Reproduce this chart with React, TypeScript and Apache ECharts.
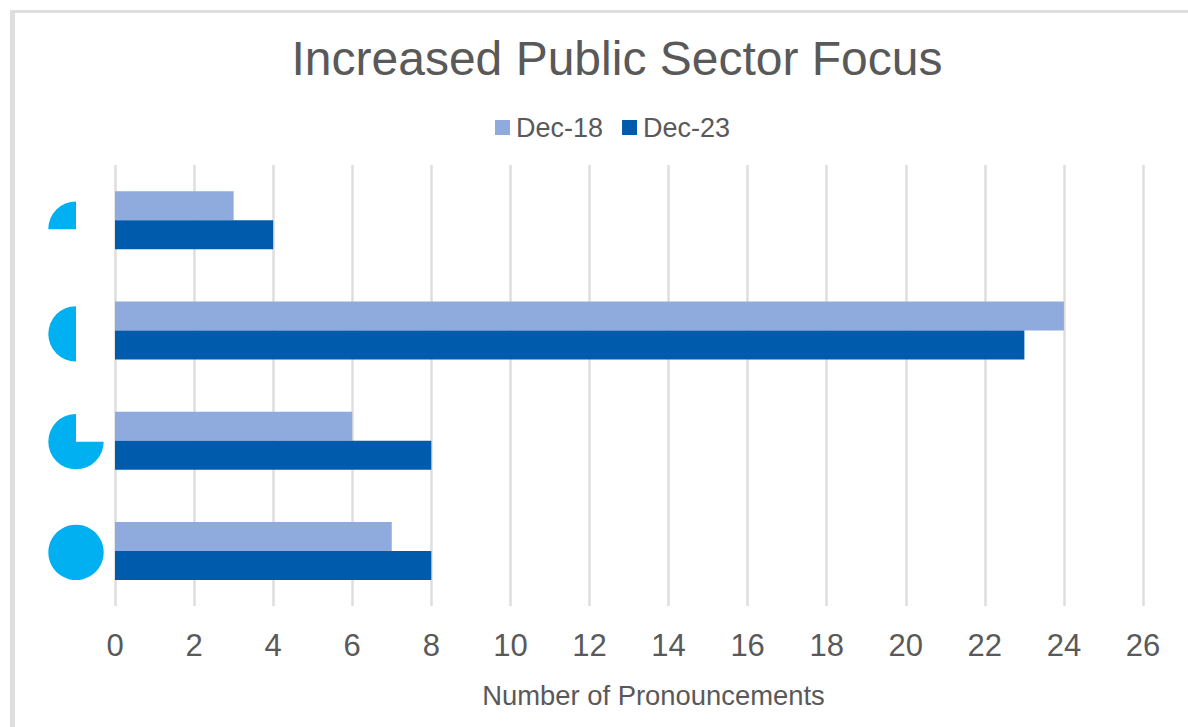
import React, { useEffect, useRef } from "react";
import * as echarts from "echarts";

const categories = ["Full", "Three quarters", "Half", "Quarter"];
const dec18 = [7, 6, 24, 3];
const dec23 = [8, 8, 23, 4];
const iconFill = [1, 0.75, 0.5, 0.25];
const iconShiftY = [1.5, 1, 3.5, 9];
const font = "'Liberation Sans', Arial, sans-serif";
const grey = "#595959";

export default function App() {
  const ref = useRef<HTMLDivElement>(null);
  useEffect(() => {
    const chart = echarts.init(ref.current!, undefined, { renderer: "svg" });
    chart.setOption({
      animation: false,
      backgroundColor: "#ffffff",
      title: {
        text: "Increased Public Sector Focus",
        left: 612, top: 29, textAlign: "center",
        textStyle: { fontFamily: font, fontSize: 48, fontWeight: "normal", color: grey },
      },
      legend: {
        data: ["Dec-18", "Dec-23"],
        left: 490, top: 109, itemWidth: 15, itemHeight: 15, itemGap: 19,
        icon: "rect",
        textStyle: { fontFamily: font, fontSize: 27, color: grey, padding: [0, 0, 0, 1] },
      },
      grid: { left: 115, right: 45, top: 165, bottom: 121 },
      xAxis: {
        type: "value", min: 0, max: 26, interval: 2,
        name: "Number of Pronouncements",
        nameLocation: "middle", nameGap: 76,
        nameTextStyle: { fontFamily: font, fontSize: 27.4, color: grey, padding: [0, 0, 0, 49] },
        axisLine: { show: false }, axisTick: { show: false },
        axisLabel: { fontFamily: font, fontSize: 31, color: grey, margin: 24 },
        splitLine: { show: true, lineStyle: { color: "#dedede", width: 2.5 } },
      },
      yAxis: {
        type: "category", data: categories,
        axisLine: { show: false }, axisTick: { show: false }, axisLabel: { show: false },
      },
      series: [
        { name: "Dec-18", type: "bar", data: dec18, barWidth: 29, barGap: "0%", itemStyle: { color: "#8faadc" } },
        { name: "Dec-23", type: "bar", data: dec23, barWidth: 29, barGap: "0%", itemStyle: { color: "#005bac" } },
        {
          name: "Share", type: "custom", silent: true, clip: false,
          data: iconFill.map((f, i) => [i, f]),
          encode: { x: -1, y: 0 },
          renderItem: (_: any, api: any) => {
            const i = api.value(0);
            const f = api.value(1);
            const p = api.coord([0, i]);
            const start = -Math.PI / 2 - f * 2 * Math.PI;
            return {
              type: "sector",
              shape: {
                cx: p[0] - 39, cy: p[1] + iconShiftY[i], r: 27.7, r0: 0,
                startAngle: f === 1 ? 0 : start,
                endAngle: f === 1 ? Math.PI * 2 : -Math.PI / 2,
              },
              style: { fill: "#00b0f0" },
            };
          },
        },
      ],
      graphic: [
        { type: "rect", shape: { x: 10, y: 10, width: 1178, height: 3 }, style: { fill: "#dedede" } },
        { type: "rect", shape: { x: 10, y: 10, width: 5, height: 717 }, style: { fill: "#dedede" } },
      ],
    });
    return () => chart.dispose();
  }, []);
  return <div ref={ref} style={{ position: "fixed", left: 0, top: 0, width: 1188, height: 727 }} />;
}
